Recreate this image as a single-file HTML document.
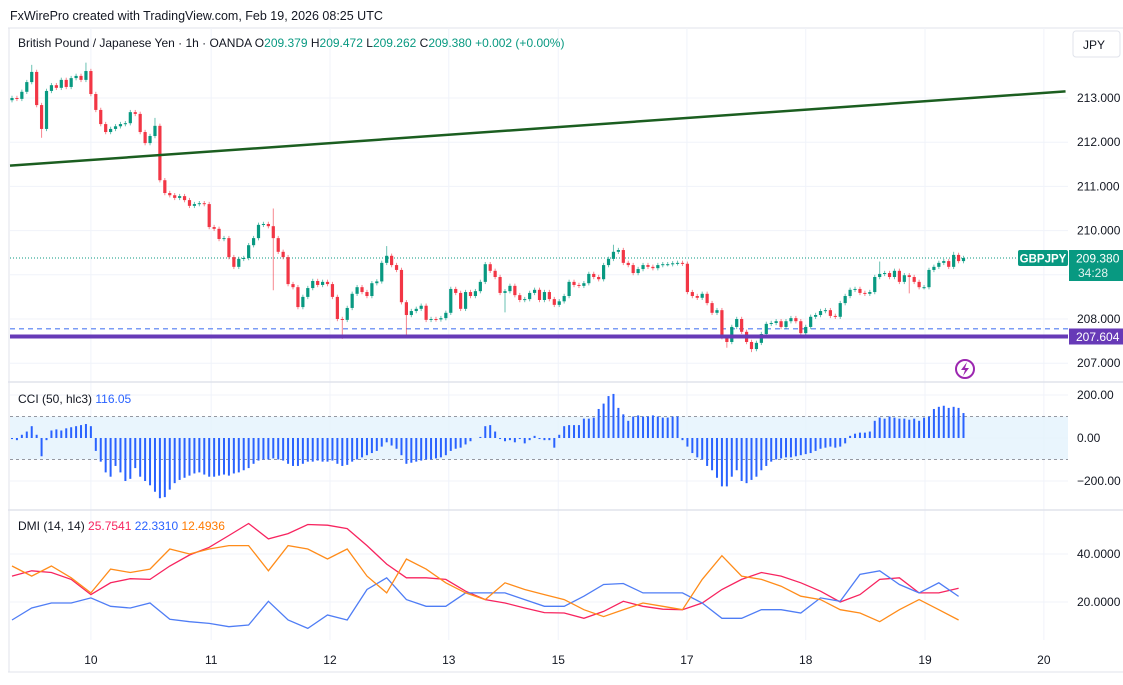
<!DOCTYPE html>
<html><head><meta charset="utf-8">
<style>
html,body{margin:0;padding:0;background:#fff;}
body{width:1123px;height:680px;overflow:hidden;font-family:"Liberation Sans",sans-serif;}
svg text{font-family:"Liberation Sans",sans-serif;}
</style></head>
<body>
<svg id="chart" width="1123" height="680" viewBox="0 0 1123 680" xmlns="http://www.w3.org/2000/svg">
<text x="10" y="20" font-size="12.5" fill="#131722">FxWirePro created with TradingView.com, Feb 19, 2026 08:25 UTC</text>
<line x1="8" y1="28" x2="1123" y2="28" stroke="#e0e3eb"/>
<line x1="9" y1="28" x2="9" y2="672" stroke="#e0e3eb"/>
<line x1="8" y1="672" x2="1123" y2="672" stroke="#e0e3eb"/>
<g id="grid"></g>
<rect x="10" y="416.5" width="1058" height="43" fill="#e3f2fd" opacity="0.8"/>
<g id="main"></g>
<g id="cci"></g>
<g id="dmi"></g>
<g id="axes"></g>
<line x1="8" y1="382" x2="1123" y2="382" stroke="#e0e3eb" stroke-width="1.5"/>
<line x1="8" y1="510" x2="1123" y2="510" stroke="#e0e3eb" stroke-width="1.5"/>
<text x="18" y="47" font-size="12" fill="#131722">British Pound / Japanese Yen · 1h · OANDA  O<tspan fill="#089981">209.379</tspan>  H<tspan fill="#089981">209.472</tspan>  L<tspan fill="#089981">209.262</tspan>  C<tspan fill="#089981">209.380</tspan>  <tspan fill="#089981">+0.002 (+0.00%)</tspan></text>
<rect x="1073" y="31" width="47" height="26" rx="3" fill="#fff" stroke="#e0e3eb"/>
<text x="1083" y="49" font-size="12" fill="#131722">JPY</text>
<text x="18" y="403" font-size="12" fill="#131722">CCI (50, hlc3) <tspan fill="#2962ff">116.05</tspan></text>
<text x="18" y="530" font-size="12" fill="#131722">DMI (14, 14) <tspan fill="#f7245f">25.7541</tspan> <tspan fill="#2962ff">22.3310</tspan> <tspan fill="#ff7a00">12.4936</tspan></text>
<g><circle cx="965" cy="369" r="9" fill="#fff" stroke="#9c27b0" stroke-width="2"/><path d="M967 362 L961 370 L965 370 L963 376 L969 368 L965 368 Z" fill="#9c27b0"/></g>
</svg>
<script>
// ----- data -----
const closes = [213.00,212.98,213.14,213.36,213.59,212.84,212.30,213.16,213.29,213.23,213.41,213.25,213.45,213.50,213.41,213.61,213.09,212.73,212.41,212.23,
212.30,212.36,212.41,212.43,212.68,212.64,212.23,211.98,212.14,212.37,211.14,210.85,210.80,210.74,210.78,210.69,210.56,210.60,210.62,210.60,
210.08,210.04,209.81,209.83,209.40,209.18,209.36,209.38,209.67,209.83,210.13,210.15,210.10,209.83,209.52,209.40,208.79,208.72,208.27,208.50,
208.70,208.86,208.77,208.84,208.79,208.50,208.00,207.98,208.25,208.57,208.72,208.61,208.52,208.81,208.85,209.27,209.43,209.22,209.11,208.38,
208.09,208.18,208.23,208.30,207.98,208.00,207.99,208.02,208.14,208.68,208.59,208.23,208.61,208.52,208.63,208.84,209.24,209.09,208.95,208.59,
208.63,208.75,208.54,208.43,208.45,208.59,208.66,208.43,208.61,208.45,208.32,208.40,208.52,208.84,208.77,208.75,208.81,209.02,208.95,208.90,
209.22,209.36,209.52,209.56,209.27,209.22,209.04,209.13,209.22,209.18,209.15,209.22,209.24,209.24,209.26,209.27,209.25,208.61,208.52,208.48,
208.57,208.36,208.14,208.20,207.59,207.48,207.82,208.00,207.71,207.48,207.32,207.46,207.66,207.89,207.91,207.95,207.82,207.95,208.02,207.95,
207.68,207.82,208.05,208.09,208.18,208.20,208.07,208.05,208.36,208.52,208.66,208.68,208.59,208.57,208.61,208.95,209.02,209.04,208.95,209.09,
208.84,208.99,208.95,208.84,208.72,208.72,209.11,209.18,209.27,209.31,209.18,209.45,209.31,209.38];
const firstOpen = 212.95;
const spikeHighIdx = [4,15,53,29,76,122,176,191];
const spikeHighVal = [213.75,213.80,210.50,212.55,209.65,209.68,209.30,209.52];
const spikeLowIdx = [6,53,67,80,150,145,182,100];
const spikeLowVal = [212.10,208.65,207.55,207.58,207.25,207.35,208.58,208.15];
const cciValues = [-5,-10,15,30,55,15,-85,-10,35,40,35,45,50,55,60,65,55,
-60,-110,-160,-180,-130,-160,-200,-190,-140,-180,-200,
-220,-250,-280,-275,-240,-210,-195,-185,-175,-165,-160,-170,-180,-180,-175,-170,-175,-165,-160,
-150,-140,-120,-105,-100,-100,-95,-100,-105,
-120,-130,-130,-120,-110,
-110,-105,-110,-110,-105,
-120,-130,-125,-110,
-100,-90,-80,-70,-60,
-40,-20,-35,-50,-80,
-120,-115,-110,-105,-100,-100,-95,-90,
-80,-60,-50,-45,-30,-15,
0,5,55,60,30,-5,-15,-10,-20,-5,-25,-10,10,-5,-10,-10,-45,
15,55,60,60,60,90,90,95,135,160,195,205,140,110,80,100,105,100,100,105,100,95,95,100,100,
-10,-40,-70,-90,-100,-130,-150,-185,-225,-225,-180,-150,-200,-210,-195,-180,-150,-130,-110,-100,-95,-90,-90,-85,-80,-75,-70,-60,-50,-45,-40,-45,-40,-25,
10,20,25,25,30,80,95,90,100,95,90,90,85,90,80,95,100,135,145,150,140,145,140,116];
const dmiStep = 4;
const adxValues = [30.8,33,32.3,29.4,23.1,28,29.7,29.4,35,39.6,42.8,47.7,52.7,46.3,48.5,52.3,52,50.6,43.5,35.8,30.1,30.1,29.4,24.5,21,19.6,17.5,15.6,15.4,13.2,16.1,20.3,18.2,17,16.8,19.6,25.2,29.4,32.3,30.8,28,24.5,20,23.1,29.4,30.1,23.8,23.8,25.75];
const plusDiValues = [12.5,17.5,19.6,19.6,21.7,18.2,17.5,19.6,12.8,11.8,11.1,9.7,10.4,20.3,12.5,9,14.6,12.5,25.2,30.1,21,18.2,18.2,23.8,23.8,23.8,21,18.2,18.2,22.4,27.3,27.7,23.8,23.8,23.8,19.6,13.2,13.2,16.8,16.8,15.4,21.7,20.3,31.5,33,27.3,23.8,28,22.33];
const minusDiValues = [35,30.8,35,30.1,23.8,33.7,32.3,33.7,42.1,40,42.1,43.5,43.5,33,43.5,42.1,37.9,42.1,30.8,23.8,37.9,33.7,28,23.8,21,28,25.2,23.1,21,16.8,13.9,16.8,19.6,18.2,16.8,29.4,39.3,30.8,29.4,26.6,22.4,21,16.8,15.4,11.8,16.8,21,16.8,12.49];
const dayLabels = ["10","11","12","13","15","17","18","19","20"];
const dayIdx = [16,40.4,64.5,88.6,110.8,136.9,161,185.2,209.3];
const priceTicks = [213,212,211,210,208,207];
const cciTicks = [200,0,-200];
const cciTickLabels = ["200.00","0.00","−200.00"];
const dmiTicks = [40,20];
const dmiTickLabels = ["40.0000","20.0000"];
const lastPrice = 209.380;
const supportPrice = 207.604;
const dashedPrice = 207.78;
const trendStart = [0, 211.47];
const trendEnd = [213.7, 213.15];

// ----- axis functions -----
const NS = "http://www.w3.org/2000/svg";
const X0 = 12, STEP = 4.93;
const xOf = i => X0 + i * STEP;
const yPrice = p => 98 + (213 - p) * 44.2;
const yCci = v => 438 - v * 0.215;
const yDmi = v => 602 - (v - 20) * 2.4;
function mk(tag, attrs, parent){const e=document.createElementNS(NS,tag);for(const k in attrs)e.setAttribute(k,attrs[k]);parent.appendChild(e);return e;}
const grid=document.getElementById('grid'), main=document.getElementById('main'), cci=document.getElementById('cci'), dmi=document.getElementById('dmi'), axes=document.getElementById('axes');

// grid
dayIdx.forEach((d,k)=>{
  const x=xOf(d);
  const gl=mk('line',{x1:x,y1:28,x2:x,y2:640,stroke:'#f0f3fa'},grid);
  
  
  const t=mk('text',{x:x,y:664,'font-size':12,'text-anchor':'middle',fill:'#131722'},axes);
  t.textContent=dayLabels[k];
  
  
});
[213,212,211,210,209,208,207].forEach(p=>{
  const gl=mk('line',{x1:10,y1:yPrice(p),x2:1068,y2:yPrice(p),stroke:'#f0f3fa'},grid);
  
  
});
priceTicks.forEach(p=>{
  const t=mk('text',{x:1077,y:yPrice(p)+4,'font-size':12,fill:'#131722'},axes);
  t.textContent=p.toFixed(3);
  
  
});
cciTicks.forEach((v,k)=>{
  const t=mk('text',{x:1077,y:yCci(v)+4,'font-size':12,fill:'#131722'},axes);
  t.textContent=cciTickLabels[k];
  
  
  const gl=mk('line',{x1:10,y1:yCci(v),x2:1068,y2:yCci(v),stroke:'#f0f3fa'},grid);
  
  
});
dmiTicks.forEach((v,k)=>{
  const t=mk('text',{x:1077,y:yDmi(v)+4,'font-size':12,fill:'#131722'},axes);
  t.textContent=dmiTickLabels[k];
  
  
  const gl=mk('line',{x1:10,y1:yDmi(v),x2:1068,y2:yDmi(v),stroke:'#f0f3fa'},grid);
  
  
});

// reference lines
let l;
l=mk('line',{x1:10,y1:yPrice(dashedPrice),x2:1068,y2:yPrice(dashedPrice),stroke:'#7b9cf5','stroke-width':1.5,'stroke-dasharray':'5,4'},main);


l=mk('line',{x1:10,y1:yPrice(lastPrice),x2:1068,y2:yPrice(lastPrice),stroke:'#089981','stroke-width':1,'stroke-dasharray':'1,2'},main);



// candles
const highMap={}, lowMap={};
spikeHighIdx.forEach((i,k)=>highMap[i]=spikeHighVal[k]);
spikeLowIdx.forEach((i,k)=>lowMap[i]=spikeLowVal[k]);
closes.forEach((c,i)=>{
  const o = i===0 ? firstOpen : closes[i-1];
  const up = c>=o;
  const col = up ? '#089981' : '#f23645';
  const hi = highMap[i]!==undefined ? highMap[i] : Math.max(o,c)+0.05;
  const lo = lowMap[i]!==undefined ? lowMap[i] : Math.min(o,c)-0.05;
  const x=xOf(i);
  const w=mk('line',{x1:x,y1:yPrice(hi),x2:x,y2:yPrice(lo),stroke:col,'stroke-width':1,opacity:0.6},main);
  
  
  const yt=yPrice(Math.max(o,c)), yb=yPrice(Math.min(o,c));
  const b=mk('rect',{x:x-1.6,y:yt,width:3.2,height:Math.max(1,yb-yt),fill:col},main);
  
  
});

// trend line and support
l=mk('line',{x1:10,y1:yPrice(trendStart[1]),x2:xOf(trendEnd[0]),y2:yPrice(trendEnd[1]),stroke:'#1b5e20','stroke-width':2.5},main);


l=mk('line',{x1:10,y1:yPrice(supportPrice),x2:1068,y2:yPrice(supportPrice),stroke:'#673ab7','stroke-width':4},main);



// price labels
let r,t;
r=mk('rect',{x:1018,y:yPrice(lastPrice)-8,width:50,height:16,rx:2,fill:'#089981'},axes);


t=mk('text',{x:1043,y:yPrice(lastPrice)+4.5,'font-size':11.5,'font-weight':'bold','text-anchor':'middle',fill:'#fff'},axes);
t.textContent='GBPJPY';


r=mk('rect',{x:1069,y:yPrice(lastPrice)-8,width:54,height:31,fill:'#089981'},axes);


t=mk('text',{x:1076,y:yPrice(lastPrice)+4.5,'font-size':12,fill:'#fff'},axes);
t.textContent=lastPrice.toFixed(3);


t=mk('text',{x:1078,y:yPrice(lastPrice)+19,'font-size':12,fill:'#e0f2ef'},axes);
t.textContent='34:28';


r=mk('rect',{x:1069,y:yPrice(supportPrice)-8,width:54,height:16,fill:'#673ab7'},axes);


t=mk('text',{x:1076,y:yPrice(supportPrice)+4.5,'font-size':12,fill:'#fff'},axes);
t.textContent=supportPrice.toFixed(3);



// CCI
[100,-100].forEach(v=>{
  const d=mk('line',{x1:10,y1:yCci(v),x2:1068,y2:yCci(v),stroke:'#9598a1','stroke-dasharray':'3,3'},cci);
  
  
});
cciValues.forEach((v,i)=>{
  const x=xOf(i);
  const b=mk('rect',{x:x-1,y:Math.min(yCci(0),yCci(v)),width:2,height:Math.abs(yCci(v)-yCci(0)),fill:'#2962ff'},cci);
  
  
});

// DMI
function dmiLine(vals,col,name){
  const pts=vals.map((v,k)=>{const i=Math.min(k*dmiStep,closes.length-1);return xOf(i).toFixed(1)+','+yDmi(v).toFixed(1);}).join(' ');
  const p=mk('polyline',{points:pts,fill:'none',stroke:col,'stroke-width':1.3},dmi);
  
  
}
dmiLine(adxValues,'#f7245f','adx-line');
dmiLine(plusDiValues,'#4f7df5','plus-di-line');
dmiLine(minusDiValues,'#ff8c1a','minus-di-line');
</script>
</body></html>
